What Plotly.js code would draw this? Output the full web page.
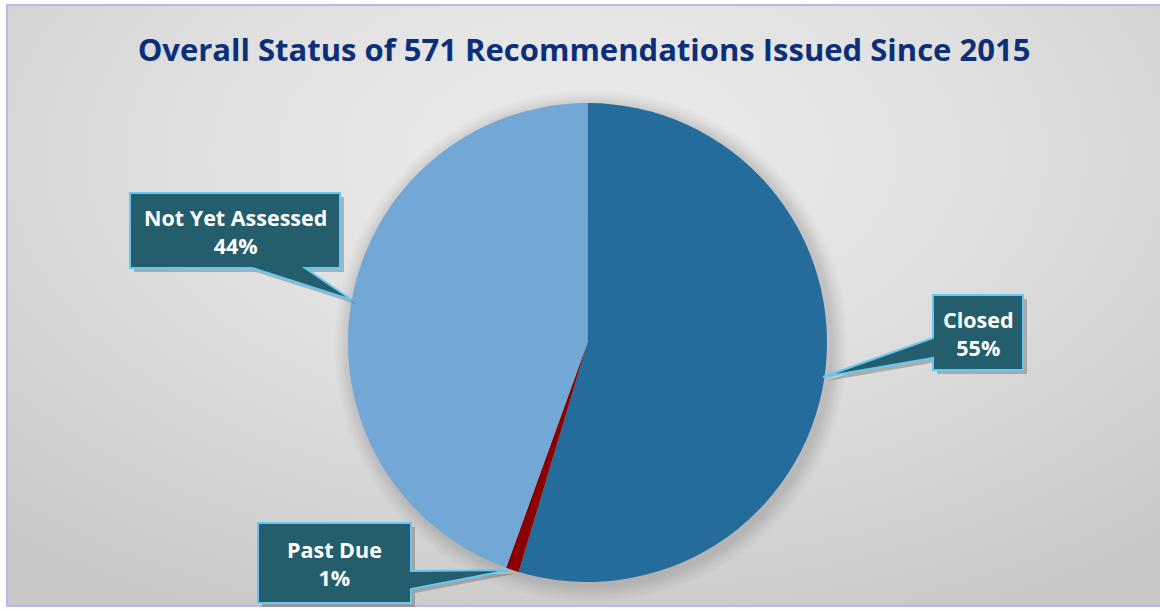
<!DOCTYPE html>
<html>
<head>
<meta charset="utf-8">
<script src="https://cdn.plot.ly/plotly-3.0.1.min.js"></script>
<style>
  html, body { margin: 0; padding: 0; background: #ffffff; }
  #wrap { position: relative; width: 1160px; height: 611px; overflow: hidden; }
  #bg {
    position: absolute; left: 6px; top: 4px; width: 1160px; height: 603px;
    border: 2px solid #b8b8e6; box-sizing: border-box;
    background: radial-gradient(ellipse 75% 85% at 50% 25%, #ececec 0%, #e0e0e0 45%, #c8c8c8 100%);
  }
  #chart { position: absolute; left: 0; top: 0; width: 1160px; height: 611px; }
</style>
</head>
<body>
<div id="wrap">
  <div id="bg"></div>
  <div id="chart"></div>
</div>
<script>
// ---- data ----
var categories = ["Closed", "Past Due", "Not Yet Assessed"];
var counts = [312, 5, 254];
var sliceColors = ["#246c9b", "#8a0000", "#73a7d6"];
var chartTitle = "Overall Status of 571 Recommendations Issued Since 2015";

// ---- layout helpers ----
var W = 1160, H = 611;
function P(x, y) { return (x / W).toFixed(5) + "," + (1 - y / H).toFixed(5); }
function pathOf(pts) {
  return "M" + pts.map(function (p) { return P(p[0], p[1]); }).join(" L") + " Z";
}
var total = counts.reduce(function (a, b) { return a + b; }, 0);
function labelText(i) {
  return "<b>" + categories[i] + "<br>" + Math.round(counts[i] / total * 100) + "%</b>";
}

// callout geometries (pixels): polygon + text centre
var callouts = [
  { i: 0, cx: 978, cy: 333,
    pts: [[933,295],[1023,295],[1023,370],[933,370],[933,358],[823,377],[933,338]] },
  { i: 1, cx: 334, cy: 563,
    pts: [[258,523],[411,523],[411,571],[510,570],[411,589],[411,603],[258,603]] },
  { i: 2, cx: 235, cy: 231,
    pts: [[130,193],[340,193],[340,268],[305,268],[352,300],[252,268],[130,268]] }
];

var shapes = [];
// soft pie shadow (offset down-right)
[16, 13, 10, 8, 6, 4, 2].forEach(function (d) {
  var r = 240 + d, cx = 591, cy = 346;
  shapes.push({ type: "circle", xref: "paper", yref: "paper", layer: "below",
    x0: (cx - r) / W, x1: (cx + r) / W, y0: 1 - (cy + r) / H, y1: 1 - (cy - r) / H,
    fillcolor: "rgba(0,0,0,0.018)", line: { width: 0 } });
});
var annotations = [];
var labelFont = "'Open Sans', 'Noto Sans', sans-serif";
callouts.forEach(function (c) {
  var sh = c.pts.map(function (p) { return [p[0] + 4, p[1] + 4]; });
  shapes.push({ type: "path", xref: "paper", yref: "paper", layer: "above",
    path: pathOf(sh), fillcolor: "rgba(60,60,60,0.30)", line: { width: 0 } });
  shapes.push({ type: "path", xref: "paper", yref: "paper", layer: "above",
    path: pathOf(c.pts), fillcolor: "#245e6c", line: { color: "#66c8f2", width: 2 } });
  annotations.push({ xref: "paper", yref: "paper", x: c.cx / W, y: 1 - c.cy / H,
    xanchor: "center", yanchor: "middle", showarrow: false, align: "center",
    text: labelText(c.i),
    font: { family: labelFont, size: 21.5, color: "#ffffff" } });
});

var cxp = 587.5, cyp = 342.5, rad = 239.5;
var trace = {
  type: "pie",
  labels: categories,
  values: counts,
  sort: false,
  direction: "clockwise",
  rotation: 0,
  textinfo: "none",
  hoverinfo: "none",
  marker: { colors: sliceColors, line: { width: 0 } },
  domain: { x: [(cxp - rad) / W, (cxp + rad) / W], y: [1 - (cyp + rad) / H, 1 - (cyp - rad) / H] },
  showlegend: false
};

var layout = {
  width: W, height: H,
  margin: { l: 0, r: 0, t: 0, b: 0 },
  paper_bgcolor: "rgba(0,0,0,0)",
  plot_bgcolor: "rgba(0,0,0,0)",
  title: { text: "<b>" + chartTitle + "</b>", x: 584 / W, xanchor: "center",
    y: 1 - 50 / H, yanchor: "middle",
    font: { family: labelFont, size: 31, color: "#0b2f78" } },
  shapes: shapes,
  annotations: annotations,
  showlegend: false
};

Plotly.newPlot("chart", [trace], layout, { staticPlot: true, displayModeBar: false });
</script>
</body>
</html>
